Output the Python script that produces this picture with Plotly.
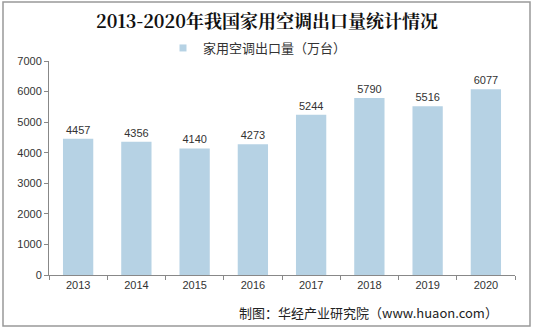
import plotly.graph_objects as go

years = ["2013", "2014", "2015", "2016", "2017", "2018", "2019", "2020"]
exports = [4457, 4356, 4140, 4273, 5244, 5790, 5516, 6077]
series_name = "家用空调出口量（万台）"
title = "2013-2020年我国家用空调出口量统计情况"
source = "制图：华经产业研究院（www.huaon.com）"
bar_color = "#b6d2e4"

W, H = 534, 335
L, R, T, B = 49, 19, 61, 60
pw, ph = W - L - R, H - T - B

def px_x(x):
    return (x - L) / pw

def px_y(y):
    return (H - B - y) / ph

fig = go.Figure()
fig.add_trace(go.Bar(
    x=years, y=exports, name=series_name, showlegend=False,
    marker=dict(color=bar_color, line=dict(width=0)),
    text=[str(v) for v in exports], textposition="outside",
    textfont=dict(family="Liberation Sans, Arial", size=11, color="#333333"),
    cliponaxis=False,
))
fig.add_trace(go.Scatter(
    x=[None], y=[None], mode="markers", name=series_name, showlegend=True,
    marker=dict(symbol="square", size=7, color=bar_color),
))

fig.update_layout(
    width=W, height=H,
    margin=dict(l=L, r=R, t=T, b=B),
    paper_bgcolor="white", plot_bgcolor="white",
    bargap=0.48,
    showlegend=True,
    legend=dict(orientation="h", x=px_x(163), xanchor="left", y=px_y(48), yanchor="middle",
                font=dict(family="Noto Sans CJK SC", size=13, color="#333333"),
                itemwidth=30, bgcolor="rgba(0,0,0,0)"),
    title=dict(text=title, x=0.5, xanchor="center", y=1 - 22 / H, yanchor="middle",
               font=dict(family="Noto Serif CJK SC, Noto Sans CJK SC", size=18, color="#111111", weight="bold")),
    xaxis=dict(showline=True, linecolor="#888888", linewidth=1,
               ticks="outside", ticklen=4, tickcolor="#888888", tickson="boundaries",
               tickfont=dict(family="Liberation Sans, Arial", size=11, color="#333333"),
               showgrid=False),
    yaxis=dict(range=[0, 7000], dtick=1000, showline=True, linecolor="#888888", linewidth=1,
               ticks="outside", ticklen=4, tickcolor="#888888", showgrid=False, zeroline=False,
               tickfont=dict(family="Liberation Sans, Arial", size=11, color="#333333")),
    shapes=[dict(type="rect", xref="paper", yref="paper",
                 x0=px_x(3), x1=px_x(530), y0=px_y(326), y1=px_y(2),
                 line=dict(color="#999999", width=1.5), fillcolor="rgba(0,0,0,0)", layer="below")],
    annotations=[dict(text=source, xref="paper", yref="paper", x=px_x(500), y=px_y(312),
                      xanchor="right", yanchor="middle", showarrow=False,
                      font=dict(family="Noto Sans CJK SC", size=13, color="#222222"))],
)

fig.write_html("out.html")
